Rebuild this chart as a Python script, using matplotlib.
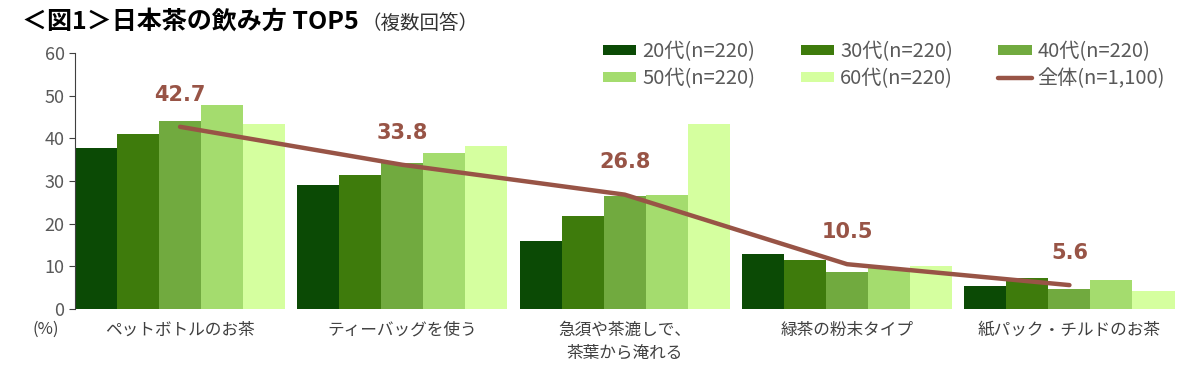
import matplotlib.pyplot as plt
import numpy as np

plt.rcParams['font.family'] = ['Noto Sans CJK JP', 'DejaVu Sans']

categories = ['ペットボトルのお茶', 'ティーバッグを使う', '急須や茶漉しで、\n茶葉から淹れる',
              '緑茶の粉末タイプ', '紙パック・チルドのお茶']
series_names = ['20代(n=220)', '30代(n=220)', '40代(n=220)', '50代(n=220)', '60代(n=220)']
series_values = [
    [37.7, 29.1, 15.9, 12.8, 5.5],
    [40.9, 31.5, 21.8, 11.5, 7.3],
    [44.1, 34.3, 26.5, 8.7, 4.6],
    [47.7, 36.5, 26.8, 9.7, 6.9],
    [43.3, 38.3, 43.3, 10.1, 4.2],
]
total_name = '全体(n=1,100)'
total_values = [42.7, 33.8, 26.8, 10.5, 5.6]

colors = ['#0b4a05', '#3e7b0c', '#71aa3f', '#a4dc6e', '#d5ff9f']
line_color = '#985446'
text_gray = '#595959'

fig = plt.figure(figsize=(12, 3.9), dpi=100)
ax = fig.add_axes([0.0625, 0.2077, 0.9195, 0.6564])

x = np.arange(len(categories))
w = 0.189
bars = []
for i, (name, vals) in enumerate(zip(series_names, series_values)):
    b = ax.bar(x + (i - 2) * w, vals, w, color=colors[i], label=name, zorder=2)
    bars.append(b)

line, = ax.plot(x, total_values, color=line_color, lw=3.2, label=total_name,
                zorder=3, solid_capstyle='round')
for xi, v in zip(x, total_values):
    ax.text(xi, v + 5.2, f'{v}', color=line_color, fontsize=15, fontweight='bold',
            ha='center', va='bottom', family='DejaVu Sans')

ax.set_xlim(-0.4725, 4.49)
ax.set_ylim(0, 60)
ax.set_yticks(range(0, 61, 10))
ax.set_xticks(x)
ax.set_xticklabels(categories, fontsize=12, color='#404040', linespacing=1.5)
ax.tick_params(axis='x', length=0, pad=9)
ax.tick_params(axis='y', labelsize=13, labelcolor=text_gray, color='#404040', length=4)
for s in ['top', 'right', 'bottom']:
    ax.spines[s].set_visible(False)
ax.spines['left'].set_color('#404040')

fig.text(0.038, 0.155, '(%)', fontsize=12, color='#404040', ha='center', va='center')

fig.text(0.018, 0.944, '＜図1＞日本茶の飲み方 TOP5', fontsize=18, fontweight='bold',
         color='black', ha='left', va='center')
fig.text(0.301, 0.940, '（複数回答）', fontsize=14, color='#333333', ha='left', va='center')

handles = [bars[0], bars[3], bars[1], bars[4], bars[2], line]
labels = [series_names[0], series_names[3], series_names[1], series_names[4],
          series_names[2], total_name]
fig.legend(handles, labels, ncol=3, loc='upper left', bbox_to_anchor=(0.496, 0.915),
           frameon=False, fontsize=14.5, labelcolor=text_gray, handlelength=1.65,
           handleheight=0.4, handletextpad=0.3, columnspacing=2.25, labelspacing=0.3,
           borderaxespad=0)

plt.savefig('out.png', dpi=100)
plt.close()
